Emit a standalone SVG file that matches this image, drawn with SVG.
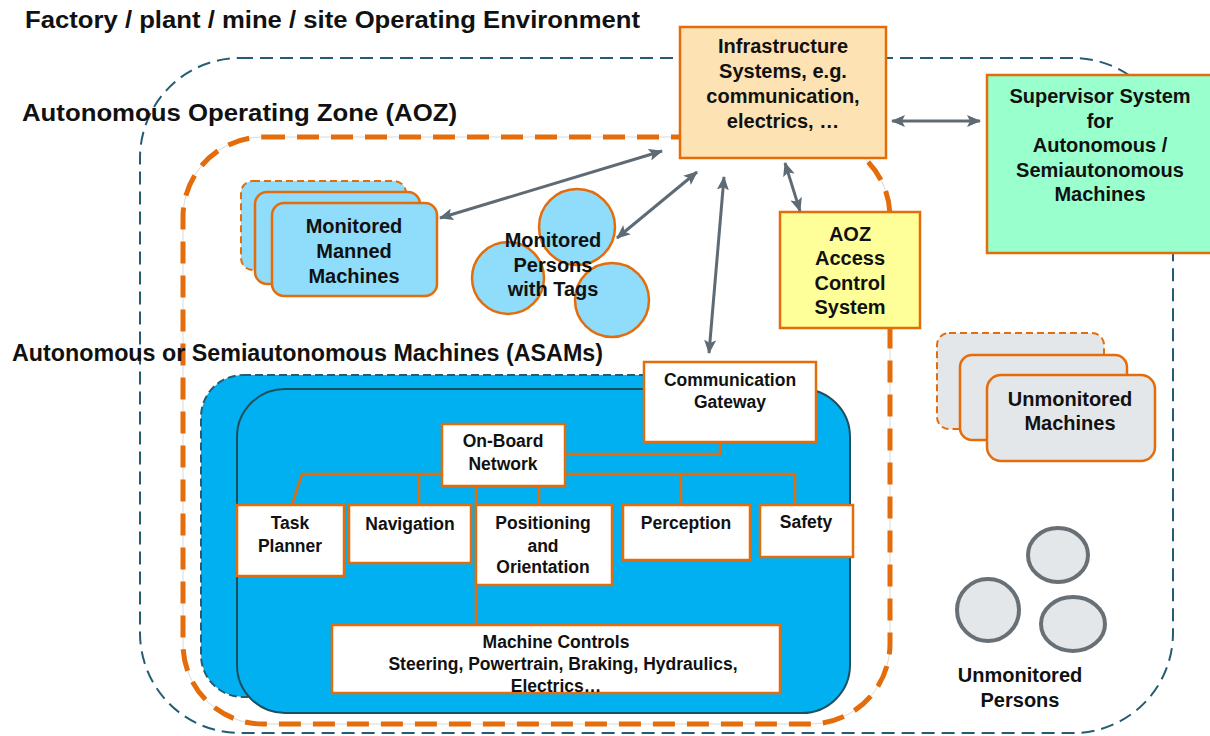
<svg xmlns="http://www.w3.org/2000/svg" width="1210" height="736" viewBox="0 0 1210 736">
  <style>
    text { font-family: "Liberation Sans", Arial, sans-serif; font-weight: bold; fill: #111; text-anchor: middle; }
    .head { font-size: 23px; text-anchor: start; }
    .lbl { font-size: 20px; }
    .sm { font-size: 17.5px; }
    .box { stroke: #e46c0a; stroke-width: 2.5; }
    .white { fill: #ffffff; }
    .lblue { fill: #8fdcfb; }
    .grey { fill: #e4e7ea; }
    .bus { fill: none; stroke: #e46c0a; stroke-width: 2.5; }
    .arrow { fill: none; stroke: #5f6b74; stroke-width: 3; marker-start: url(#ah); marker-end: url(#ah); }
  </style>
  <defs>
    <marker id="ah" viewBox="0 0 14 12" refX="13" refY="6" markerWidth="14" markerHeight="12" markerUnits="userSpaceOnUse" orient="auto-start-reverse">
      <path d="M0,0 L14,6 L0,12 L3,6 z" fill="#5f6b74"/>
    </marker>
  </defs>

  <rect width="1210" height="736" fill="#ffffff"/>

  <!-- operating environment boundary -->
  <g id="environment">
    <rect x="140" y="58" width="1033" height="675" rx="100" fill="none" stroke="#245d73" stroke-width="2" stroke-dasharray="13 7"/>
    <text class="head" x="25" y="28" textLength="615" lengthAdjust="spacingAndGlyphs">Factory / plant / mine / site Operating Environment</text>
  </g>

  <!-- autonomous operating zone boundary -->
  <g id="aoz">
    <rect x="183" y="137" width="707" height="587" rx="80" fill="none" stroke="#d9d9d9" stroke-width="1"/>
    <rect x="183" y="137" width="707" height="587" rx="80" fill="none" stroke="#e46c0a" stroke-width="5" stroke-dasharray="22 12"/>
    <text class="head" x="22" y="121" textLength="435" lengthAdjust="spacingAndGlyphs">Autonomous Operating Zone (AOZ)</text>
  </g>

  <!-- ASAM machine fleet -->
  <g id="asam">
    <rect x="201" y="375" width="580" height="322" rx="42" fill="#00b0f0" stroke="#245d73" stroke-width="2" stroke-dasharray="8 4"/>
    <rect x="237" y="389" width="613" height="324" rx="48" fill="#00b0f0" stroke="#1f4e5e" stroke-width="2"/>
    <text class="head" x="12" y="361" textLength="591" lengthAdjust="spacingAndGlyphs">Autonomous or Semiautonomous Machines (ASAMs)</text>
  </g>

  <!-- on-board wiring -->
  <g id="bus">
    <polyline class="bus" points="720,442 720,454 565,454"/>
    <polyline class="bus" points="292,505 302,474 442,474"/>
    <polyline class="bus" points="565,474 795,474 795,505"/>
    <line class="bus" x1="419" y1="474" x2="419" y2="505"/>
    <line class="bus" x1="681" y1="474" x2="681" y2="505"/>
    <line class="bus" x1="539" y1="486" x2="539" y2="505"/>
    <line class="bus" x1="476" y1="486" x2="476" y2="625"/>
  </g>

  <g id="gateway">
    <rect class="box white" x="644" y="362" width="172" height="80"/>
    <text class="sm" x="730" y="386">Communication</text>
    <text class="sm" x="730" y="408">Gateway</text>
  </g>
  <g id="onboard-network">
    <rect class="box white" x="442" y="424" width="123" height="62"/>
    <text class="sm" x="503" y="447">On-Board</text>
    <text class="sm" x="503" y="470">Network</text>
  </g>
  <g id="task-planner">
    <rect class="box white" x="237" y="505" width="107" height="71"/>
    <text class="sm" x="290" y="529">Task</text>
    <text class="sm" x="290" y="552">Planner</text>
  </g>
  <g id="navigation">
    <rect class="box white" x="349" y="505" width="122" height="58"/>
    <text class="sm" x="410" y="530">Navigation</text>
  </g>
  <g id="positioning">
    <rect class="box white" x="476" y="505" width="136" height="80"/>
    <text class="sm" x="543" y="529">Positioning</text>
    <text class="sm" x="543" y="552">and</text>
    <text class="sm" x="543" y="573">Orientation</text>
  </g>
  <g id="perception">
    <rect class="box white" x="623" y="505" width="127" height="55"/>
    <text class="sm" x="686" y="529">Perception</text>
  </g>
  <g id="safety">
    <rect class="box white" x="760" y="505" width="93" height="52"/>
    <text class="sm" x="806" y="528">Safety</text>
  </g>
  <g id="machine-controls">
    <rect class="box white" x="332" y="625" width="448" height="68"/>
    <text class="sm" x="556" y="648">Machine Controls</text>
    <text class="sm" x="563" y="670">Steering, Powertrain, Braking, Hydraulics,</text>
    <text class="sm" x="556" y="692">Electrics…</text>
  </g>

  <!-- monitored manned machines -->
  <g id="manned-machines">
    <rect class="lblue" x="241" y="181" width="165" height="89" rx="12" stroke="#e46c0a" stroke-width="2" stroke-dasharray="7 4"/>
    <rect class="box lblue" x="255" y="192" width="165" height="92" rx="12"/>
    <rect class="box lblue" x="272" y="203" width="165" height="93" rx="12"/>
    <text class="lbl" x="354" y="233">Monitored</text>
    <text class="lbl" x="354" y="258">Manned</text>
    <text class="lbl" x="354" y="283">Machines</text>
  </g>

  <!-- monitored persons -->
  <g id="monitored-persons">
    <circle class="box lblue" cx="577" cy="227" r="38"/>
    <circle class="box lblue" cx="508" cy="278" r="36"/>
    <circle class="box lblue" cx="612" cy="300" r="37"/>
    <text class="lbl" x="553" y="247">Monitored</text>
    <text class="lbl" x="553" y="272">Persons</text>
    <text class="lbl" x="553" y="296">with Tags</text>
  </g>

  <!-- unmonitored machines -->
  <g id="unmonitored-machines">
    <rect class="grey" x="937" y="333" width="167" height="96" rx="12" stroke="#e46c0a" stroke-width="2" stroke-dasharray="7 4"/>
    <rect class="box grey" x="960" y="355" width="167" height="85" rx="12"/>
    <rect class="box grey" x="987" y="375" width="168" height="86" rx="14"/>
    <text class="lbl" x="1070" y="406">Unmonitored</text>
    <text class="lbl" x="1070" y="430">Machines</text>
  </g>

  <!-- unmonitored persons -->
  <g id="unmonitored-persons">
    <ellipse class="grey" cx="1058" cy="555" rx="30" ry="27" stroke="#687076" stroke-width="4"/>
    <ellipse class="grey" cx="988" cy="610" rx="31" ry="31" stroke="#687076" stroke-width="4"/>
    <ellipse class="grey" cx="1073" cy="624" rx="32" ry="27" stroke="#687076" stroke-width="4"/>
    <text class="lbl" x="1020" y="682">Unmonitored</text>
    <text class="lbl" x="1020" y="707">Persons</text>
  </g>

  <g id="infrastructure">
    <rect class="box" x="680" y="27" width="206" height="131" fill="#fde2b3"/>
    <text class="lbl" x="783" y="53">Infrastructure</text>
    <text class="lbl" x="783" y="78">Systems, e.g.</text>
    <text class="lbl" x="783" y="103">communication,</text>
    <text class="lbl" x="783" y="128">electrics, …</text>
  </g>

  <g id="supervisor">
    <rect class="box" x="987" y="75" width="226" height="178" fill="#99ffcc"/>
    <text class="lbl" x="1100" y="103">Supervisor System</text>
    <text class="lbl" x="1100" y="128">for</text>
    <text class="lbl" x="1100" y="152">Autonomous /</text>
    <text class="lbl" x="1100" y="177">Semiautonomous</text>
    <text class="lbl" x="1100" y="201">Machines</text>
  </g>

  <g id="access-control">
    <rect class="box" x="780" y="212" width="140" height="116" fill="#ffff99"/>
    <text class="lbl" x="850" y="241">AOZ</text>
    <text class="lbl" x="850" y="265">Access</text>
    <text class="lbl" x="850" y="290">Control</text>
    <text class="lbl" x="850" y="314">System</text>
  </g>

  <!-- data links -->
  <g id="connectors">
    <line class="arrow" x1="440" y1="218" x2="662" y2="151"/>
    <line class="arrow" x1="617" y1="238" x2="697" y2="172"/>
    <line class="arrow" x1="709" y1="353" x2="724" y2="177"/>
    <line class="arrow" x1="800" y1="211" x2="785" y2="163"/>
    <line class="arrow" x1="892" y1="121" x2="980" y2="121"/>
  </g>
</svg>
